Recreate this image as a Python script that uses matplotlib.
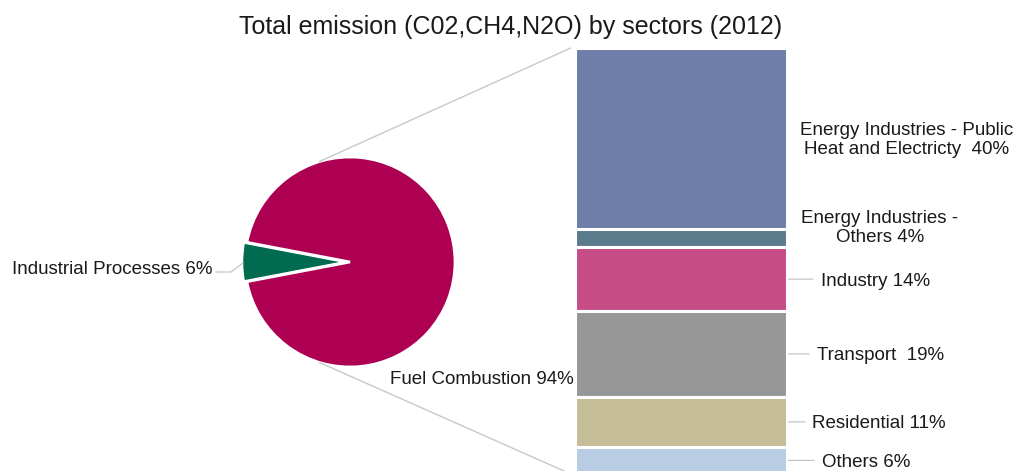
import matplotlib
matplotlib.use("Agg")
import matplotlib.pyplot as plt
from matplotlib.patches import ConnectionPatch
import numpy as np

plt.rcParams["font.family"] = ["Liberation Sans", "DejaVu Sans"]

# Datos del gráfico
pie_labels = ["Industrial Processes 6%", "Fuel Combustion 94%"]
pie_values = [6, 94]
pie_colors = ["#006B4F", "#AE0052"]

bar_labels = [
    "Energy Industries - Public\nHeat and Electricty  40%",
    "Energy Industries -\nOthers 4%",
    "Industry 14%",
    "Transport  19%",
    "Residential 11%",
    "Others 6%",
]
bar_values = [40, 4, 14, 19, 11, 6]
bar_colors = ["#6F7EA8", "#5B7B8D", "#C64D86", "#979797", "#C4BD97", "#B8CCE4"]

W, H = 1019, 471
fig = plt.figure(figsize=(W / 100, H / 100), dpi=100)


def box(x0, y0, x1, y1):
    # caja en pixeles (origen arriba-izquierda) -> fracción de figura
    return [x0 / W, (H - y1) / H, (x1 - x0) / W, (y1 - y0) / H]


# Pie
cx, cy, r = 350, 262, 105
ax_pie = fig.add_axes(box(cx - r, cy - r, cx + r, cy + r))
start = 180 - pie_values[0] / 100 * 360 / 2
wedges, _ = ax_pie.pie(pie_values, colors=pie_colors, startangle=start,
                       explode=[0.03, 0], radius=1,
                       wedgeprops=dict(edgecolor="white", linewidth=2))
ax_pie.set_xlim(-1, 1)
ax_pie.set_ylim(-1, 1)
ax_pie.set_aspect("auto")
ax_pie.axis("off")
for w in wedges:
    w.set_clip_on(False)

# Barra apilada
ax_bar = fig.add_axes(box(575, 48, 787, 474))
bottoms = np.concatenate([[0], np.cumsum(bar_values)[:-1]])
ax_bar.bar(0, bar_values, bottom=bottoms, width=1, color=bar_colors,
           edgecolor="white", linewidth=2.2)
ax_bar.set_xlim(-0.5, 0.5)
ax_bar.set_ylim(sum(bar_values), 0)
ax_bar.axis("off")

# Líneas de conexión
for ang, yb in [(107, 0), (253, sum(bar_values))]:
    a = np.deg2rad(ang)
    con = ConnectionPatch(xyA=(np.cos(a), np.sin(a)), coordsA=ax_pie.transData,
                          xyB=(-0.52, yb), coordsB=ax_bar.transData,
                          color="#C8C8C8", linewidth=1)
    fig.add_artist(con)

# Etiquetas del pie
fig.text(213 / W, 1 - 270 / H, pie_labels[0], ha="right", va="center",
         fontsize=13.5, color="#1a1a1a")
fig.add_artist(plt.Line2D([216 / W, 231 / W, 243 / W],
                          [1 - 272 / H, 1 - 272 / H, 1 - 263 / H],
                          color="#BFBFBF", linewidth=0.8))
fig.text(574 / W, 1 - 380 / H, pie_labels[1], ha="right", va="center",
         fontsize=13.5, color="#1a1a1a")

# Etiquetas de la barra
mids = bottoms + np.array(bar_values) / 2
text_pos = [(907, 140, "center", None), (880, 228, "center", None),
            (821, None, "left", 26), (817, None, "left", 22),
            (812, None, "left", 18), (822, None, "left", 27)]
for lab, mid, (tx, ty, ha, lead) in zip(bar_labels, mids, text_pos):
    if lead:
        # línea guía horizontal desde el borde de la barra
        ax_bar.annotate("", xy=(0.5, mid), xycoords="data",
                        xytext=(lead, 0), textcoords="offset pixels",
                        annotation_clip=False,
                        arrowprops=dict(arrowstyle="-", color="#BFBFBF",
                                        linewidth=0.8, shrinkA=0, shrinkB=1))
        ty_fig = ax_bar.transData.transform((0.5, mid))[1]
        ax_bar.annotate(lab, xy=(tx, ty_fig), xycoords="figure pixels",
                        ha=ha, va="center_baseline", fontsize=13.5,
                        color="#1a1a1a", annotation_clip=False)
    else:
        fig.text(tx / W, 1 - ty / H, lab, ha=ha, va="center",
                 multialignment="center", fontsize=13.5, color="#1a1a1a",
                 linespacing=1.2)

fig.text(511 / W, 1 - 27 / H, "Total emission (C02,CH4,N2O) by sectors (2012)",
         ha="center", va="center", fontsize=18, color="#1a1a1a")

plt.savefig("out.png", dpi=100)
